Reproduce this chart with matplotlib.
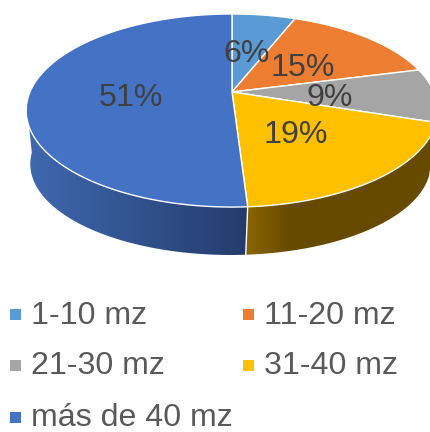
import numpy as np
import matplotlib
matplotlib.use('Agg')
import matplotlib.pyplot as plt
from matplotlib.colors import to_rgb
from matplotlib.patches import Polygon, Rectangle

labels = ['1-10 mz', '11-20 mz', '21-30 mz', '31-40 mz', 'más de 40 mz']
shares = [6, 15, 9, 19, 51]

colors = ['#5b9bd5', '#ed7d31', '#a5a5a5', '#ffc000', '#4472c4']
# shade at the left end, shade at the right end and the x range of the ramp,
# only the two front slices show an outer wall
wall_shades = {3: ('#8a6500', '#664a00', 247, 290), 4: ('#3f69b0', '#243c6c', 26, 247)}

label_pos = [(247, 54), (303, 68), (330, 98), (296, 135), (131, 98)]
legend_pos = [(10, 314.5), (243, 314.5), (10, 365.5), (243, 365.5), (10, 417.5)]

# tilted disc, projected so that the centre sits above the middle of the ellipse
persp = 0.1917
top_cx, top_a, top_b, top_y = 232, 202, 93, 92
low_cx, low_a, low_b, low_y = 230.5, 196.5, 87.6, 146.6
# where the left silhouette leaves the upper and the lower rim
sil_top, sil_low = np.radians(249.5), np.radians(266)


def rim(theta, cx, a, b, y0):
    u, v = np.sin(theta), np.cos(theta)
    d = 1 + persp * v
    return cx + a * u / d, y0 - b * v / d


def top_rim(theta):
    return rim(theta, top_cx, top_a, top_b, top_y)


def low_rim(theta):
    return rim(theta, low_cx, low_a, low_b, low_y)


fig = plt.figure(figsize=(4.30, 4.32), dpi=100)
ax = fig.add_axes([0, 0, 1, 1])

edges = np.cumsum([0] + shares) / sum(shares) * 2 * np.pi

# outer walls first, the top face covers whatever faces away
for i, (c0, c1, x0, x1) in wall_shades.items():
    xt, yt = top_rim(np.linspace(edges[i], min(edges[i + 1], sil_top), 400))
    xb, yb = low_rim(np.linspace(edges[i], min(edges[i + 1], sil_low), 400))
    outline = np.column_stack([np.r_[xt, xb[::-1]], np.r_[yt, yb[::-1]]])
    patch = Polygon(outline, closed=True, facecolor='none', edgecolor='none')
    ax.add_patch(patch)

    # horizontal colour ramp, clipped to the wall outline
    xl, xr = outline[:, 0].min(), outline[:, 0].max()
    yl, yr = outline[:, 1].min(), outline[:, 1].max()
    f = np.clip((np.linspace(xl, xr, 300) - x0) / (x1 - x0), 0, 1)[None, :, None]
    ramp = np.array(to_rgb(c0))[None, None, :] * (1 - f) + np.array(to_rgb(c1))[None, None, :] * f
    im = ax.imshow(ramp, extent=(xl, xr, yr, yl), aspect='auto', interpolation='bilinear')
    im.set_clip_path(patch)

ax.set_xlim(0, 430)
ax.set_ylim(432, 0)
ax.axis('off')

# seam between the two walls
xa, ya = top_rim(edges[4])
xb, yb = low_rim(edges[4])
ax.plot([xa, xb], [ya, yb], color='white', lw=1.0)

# top face
for i, col in enumerate(colors):
    th = np.linspace(edges[i], edges[i + 1], 200)
    x, y = top_rim(th)
    pts = np.column_stack([np.r_[top_cx, x], np.r_[top_y, y]])
    ax.add_patch(Polygon(pts, closed=True, facecolor=col, edgecolor='white', lw=1.0, joinstyle='round'))

for (x, y), s in zip(label_pos, shares):
    ax.text(x, y, f'{s}%', ha='center', va='center', fontsize=23.1,
            family='Liberation Sans', color='#404040')

for (x, y), lab, col in zip(legend_pos, labels, colors):
    ax.add_patch(Rectangle((x, y - 5.5), 11, 11, facecolor=col, edgecolor='none'))
    ax.text(x + 21, y + 1, lab, ha='left', va='center', fontsize=23.1,
            family='Liberation Sans', color='#595959')

fig.savefig('out.png', dpi=100)
